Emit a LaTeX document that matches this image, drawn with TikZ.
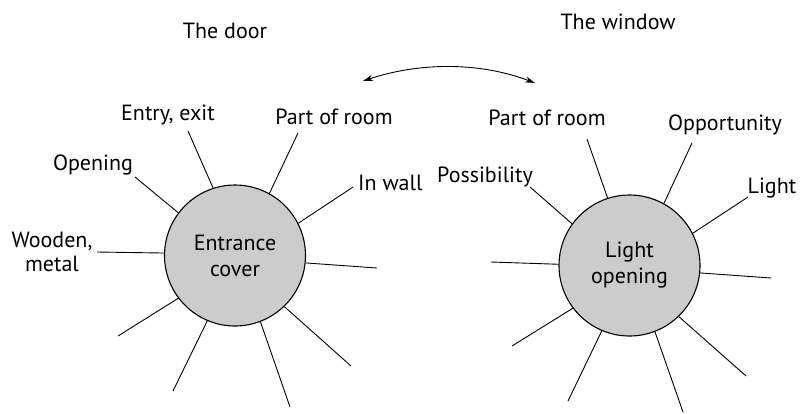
\documentclass[tikz,border=0pt]{standalone}
\usepackage{fontspec}
\setmainfont{PT Sans}
\usetikzlibrary{arrows.meta}
\begin{document}
\begin{tikzpicture}[x=1pt,y=-1pt,
  lbl/.style={font=\fontsize{22}{24}\selectfont, inner sep=0pt, align=center},
  hub/.style={circle, draw, line width=1.1pt, fill=black!20, minimum size=141pt, inner sep=0pt,
              font=\fontsize{22}{26}\selectfont, align=center},
  spoke/.style={line width=0.9pt}]
\useasboundingbox (0,0) rectangle (802,413);
% titles
\node[lbl] (tdoor) at (225,31) {The door};
\node[lbl] (twin) at (618,22) {The window};
% hubs
\node[hub] (L) at (235,255.5) {Entrance\\cover};
\node[hub] (R) at (629.5,265.5) {Light\\opening};
% left labels
\node[lbl] (lentry) at (168,115) {Entry, exit};
\node[lbl] (lpart) at (334,117) {Part of room};
\node[lbl, anchor=west] (lwall) at (358,183) {In wall};
\node[lbl] (lopen) at (93,165) {Opening};
\node[lbl] (lwood) at (52,252) {Wooden,\\metal};
% right labels
\node[lbl] (rpart) at (547,118) {Part of room};
\node[lbl] (ropp) at (725,125) {Opportunity};
\node[lbl] (rlight) at (772,188) {Light};
\node[lbl] (rposs) at (485,177) {Possibility};
% left spoke ends
\coordinate (a1) at (188,131);
\coordinate (a2) at (298,133);
\coordinate (a3) at (353,187);
\coordinate (a4) at (135,177);
\coordinate (a5) at (97,252);
\coordinate (a6) at (377,268);
\coordinate (a7) at (118,336);
\coordinate (a8) at (173,391);
\coordinate (a9) at (290,407);
\coordinate (a10) at (351,366);
\draw[spoke] (L.108.8) -- (a1);
\draw[spoke] (L.61.5) -- (a2);
\draw[spoke] (L.27.3) -- (a3);
\draw[spoke] (L.143.3) -- (a4);
\draw[spoke] (L.178.8) -- (a5);
\draw[spoke] (L.-6.1) -- (a6);
\draw[spoke] (L.-143.3) -- (a7);
\draw[spoke] (L.-113.9) -- (a8);
\draw[spoke] (L.-69.4) -- (a9);
\draw[spoke] (L.-46.4) -- (a10);
% right spoke ends
\coordinate (b1) at (587,139);
\coordinate (b2) at (692,143);
\coordinate (b3) at (748,197);
\coordinate (b4) at (530,187);
\coordinate (b5) at (491,262);
\coordinate (b6) at (771,278);
\coordinate (b7) at (512,346);
\coordinate (b8) at (568,401);
\coordinate (b9) at (683,412);
\coordinate (b10) at (746,376);
\draw[spoke] (R.108.4) -- (b1);
\draw[spoke] (R.61.8) -- (b2);
\draw[spoke] (R.27.1) -- (b3);
\draw[spoke] (R.144.2) -- (b4);
\draw[spoke] (R.179.6) -- (b5);
\draw[spoke] (R.-6.1) -- (b6);
\draw[spoke] (R.-143.5) -- (b7);
\draw[spoke] (R.-113.9) -- (b8);
\draw[spoke] (R.-69.3) -- (b9);
\draw[spoke] (R.-46.1) -- (b10);
% double arrow
\coordinate (arrL) at (363,81);
\coordinate (arrR) at (535,83);
\draw[line width=0.9pt, {Stealth[length=10pt,width=6pt]}-{Stealth[length=10pt,width=6pt]}]
  (arrL) .. controls (420,62) and (480,62) .. (arrR);
\end{tikzpicture}
\end{document}
